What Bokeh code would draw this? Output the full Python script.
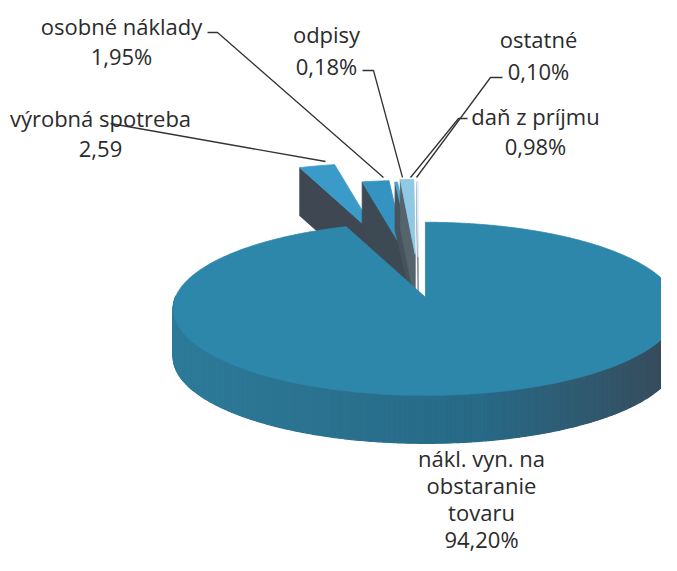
import numpy as np
from bokeh.plotting import figure
from bokeh.models import Range1d
from bokeh.core.properties import value
from bokeh.embed import file_html
from bokeh.resources import INLINE

# ---------------- data ----------------
categories = ["nákl. vyn. na obstaranie tovaru", "výrobná spotreba", "osobné náklady",
              "odpisy", "daň z príjmu", "ostatné"]
values = [94.20, 2.59, 1.95, 0.18, 0.98, 0.10]
label_lines = [["nákl. vyn. na", "obstaranie", "tovaru", "94,20%"],
               ["výrobná spotreba", "2,59"],
               ["osobné náklady", "1,95%"],
               ["odpisy", "0,18%"],
               ["daň z príjmu", "0,98%"],
               ["ostatné", "0,10%"]]

# ---------------- styles / layout ----------------
explode = [0.15, 0.61, 0.36, 0.34, 0.37, 0.34]
top_colors = ["#2d87ab", "#3a9bc9", "#3593c2", "#4aa6d2", "#8fc9e4", "#d9eef7"]
face_colors = ["#2a6f8c", "#3f4852", "#3d4953", "#46525c", "#55636d", "#7d8c95"]
CX, CY, A, B, K, T = 418.0, 284.0, 250.0, 85.0, 0.133, 48.0
label_pos = [(481, 457, 27), (100, 117, 31), (121, 25, 30), (326, 33, 32), (535, 115, 30), (538, 38, 32)]
leaders = [None,
           [(110, 123), (325, 161)],
           [(207, 32), (217, 32), (383, 177)],
           [(362, 70), (373, 70), (402, 177)],
           [(467, 118), (458, 118), (410, 177)],
           [(502, 77), (490, 77), (416, 177)]]
TEXT_COLOR = "#2b2b2b"


def proj(X, Z):
    w = 1.0 + K * Z
    return CX + A * X / w, CY - B * Z / w


p = figure(width=661, height=555, x_range=Range1d(0, 661), y_range=Range1d(555, 0),
           output_backend="svg", toolbar_location=None, min_border=0)
p.axis.visible = False
p.grid.visible = False
p.outline_line_color = None
p.background_fill_color = "white"
p.border_fill_color = "white"

fracs = np.array(values) / np.sum(values)
cum = np.concatenate([[0], np.cumsum(fracs)])
ox0, oz0 = proj(0.0, 0.0)

slices = []
for i in range(len(values)):
    hi = np.deg2rad(90 - cum[i] * 360)
    lo = np.deg2rad(90 - cum[i + 1] * 360)
    mid = (lo + hi) / 2
    ex, ez = proj(explode[i] * np.cos(mid), explode[i] * np.sin(mid))
    sx, sy = ex - ox0, ez - oz0          # screen offset of the exploded slice
    n = max(int(np.degrees(hi - lo) * 2), 4)
    phis = np.linspace(lo, hi, n)
    rx, rz = proj(np.cos(phis), np.sin(phis))
    slices.append(dict(lo=lo, hi=hi, phis=phis, rx=rx + sx, rz=rz + sy, ax=ox0 + sx, az=oz0 + sy))


def draw_small(i):
    s = slices[i]
    xs, ys, cs = [], [], []
    if np.cos(s["hi"]) < 0:
        hx, hy = s["rx"][-1], s["rz"][-1]
        xs.append([s["ax"], hx, hx, s["ax"]])
        ys.append([s["az"], hy, hy + T, s["az"] + T])
        cs.append(face_colors[i])
    if np.cos(s["lo"]) > 0:
        lx, ly = s["rx"][0], s["rz"][0]
        xs.append([s["ax"], lx, lx, s["ax"]])
        ys.append([s["az"], ly, ly + T, s["az"] + T])
        cs.append(face_colors[i])
    xs.append([s["ax"]] + list(s["rx"]))
    ys.append([s["az"]] + list(s["rz"]))
    cs.append(top_colors[i])
    p.patches(xs, ys, fill_color=cs, line_color=cs, line_width=0.8)


# far (small, exploded) slices first
for i in range(1, len(values)):
    draw_small(i)

# big slice: outer side with shading, then top
s = slices[0]
side_xs, side_ys, side_cs = [], [], []
c_left = np.array([46, 124, 155])
c_mid = np.array([40, 106, 135])
c_right = np.array([58, 72, 86])
phis = s["phis"]
for j in range(len(phis) - 1):
    m = 0.5 * (phis[j] + phis[j + 1])
    if np.sin(m) >= 0.02:
        continue
    x0, x1 = s["rx"][j], s["rx"][j + 1]
    y0, y1 = s["rz"][j], s["rz"][j + 1]
    side_xs.append([x0, x1, x1, x0])
    side_ys.append([y0, y1, y1 + T, y0 + T])
    t = np.clip((np.cos(m) + 1) / 2, 0, 1)
    if t < 0.6:
        c = c_left + (c_mid - c_left) * (t / 0.6)
    else:
        c = c_mid + (c_right - c_mid) * ((t - 0.6) / 0.4)
    side_cs.append("#%02x%02x%02x" % tuple(int(v) for v in c))
p.patches(side_xs, side_ys, fill_color=side_cs, line_color=side_cs, line_width=1.2)
p.patch([s["ax"]] + list(s["rx"]), [s["az"]] + list(s["rz"]),
        fill_color=top_colors[0], line_color=top_colors[0], line_width=0.8)

# leader lines
lx = [[pt[0] for pt in L] for L in leaders if L]
ly = [[pt[1] for pt in L] for L in leaders if L]
p.multi_line(lx, ly, line_color="#333333", line_width=1.3)

# labels
tx, ty, tt = [], [], []
for (x0, y0, step), lines in zip(label_pos, label_lines):
    for k, line in enumerate(lines):
        tx.append(x0)
        ty.append(y0 + k * step)
        tt.append(line)
p.text(tx, ty, text=tt, text_align="center", text_baseline="middle",
       text_font=value("Open Sans"), text_font_size="22px", text_color=TEXT_COLOR)

open("out.html", "w").write(file_html(p, INLINE))
